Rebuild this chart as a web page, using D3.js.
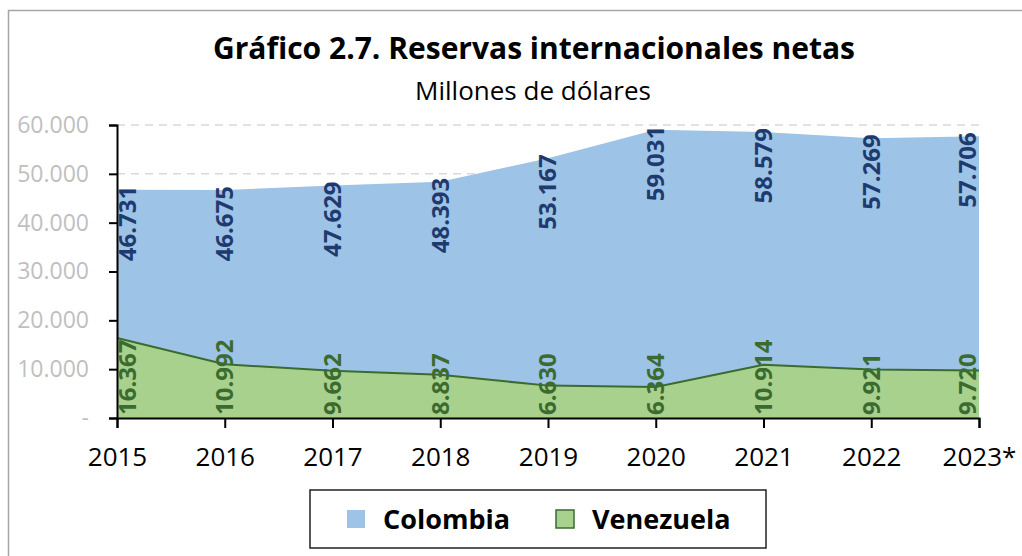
<!DOCTYPE html>
<html>
<head>
<meta charset="utf-8">
<script src="https://cdn.jsdelivr.net/npm/d3@7"></script>
<style>
  body { margin: 0; background: #fff; }
  svg { display: block; font-family: "Open Sans", sans-serif; }
</style>
</head>
<body>
<div id="chart"></div>
<script>
// Chart data
const years = ['2015', '2016', '2017', '2018', '2019', '2020', '2021', '2022', '2023*'];
const colombia = [46731, 46675, 47629, 48393, 53167, 59031, 58579, 57269, 57706];
const venezuela = [16367, 10992, 9662, 8837, 6630, 6364, 10914, 9921, 9720];
const yTicks = [0, 10000, 20000, 30000, 40000, 50000, 60000];
const gridTicks = [50000, 60000];

const W = 1022, H = 556;
const margin = { top: 125, right: 43, bottom: 138, left: 117 };
const width = W - margin.left - margin.right;
const height = H - margin.top - margin.bottom;

const locale = d3.formatLocale({ decimal: ',', thousands: '.', grouping: [3], currency: ['$', ''] });
const fmt = locale.format(',d');

const svg = d3.select('#chart').append('svg')
  .attr('width', W)
  .attr('height', H);

// outer frame
svg.append('rect')
  .attr('x', 8.5).attr('y', 10.5)
  .attr('width', W + 10).attr('height', H + 10)
  .attr('fill', 'none')
  .attr('stroke', '#a6a6a6')
  .attr('stroke-width', 1.5);

// titles
svg.append('text')
  .attr('x', 534).attr('y', 59)
  .attr('text-anchor', 'middle')
  .attr('font-weight', 'bold')
  .attr('font-size', 30)
  .text('Gráfico 2.7. Reservas internacionales netas');

svg.append('text')
  .attr('x', 533).attr('y', 100)
  .attr('text-anchor', 'middle')
  .attr('font-size', 26)
  .text('Millones de dólares');

const g = svg.append('g')
  .attr('transform', `translate(${margin.left},${margin.top})`);

const x = d3.scalePoint().domain(years).range([0, width]);
const y = d3.scaleLinear().domain([0, 60000]).range([height, 0]);

// dashed gridlines
g.selectAll('.grid')
  .data(gridTicks)
  .enter().append('line')
  .attr('class', 'grid')
  .attr('x1', 0).attr('x2', width)
  .attr('y1', d => y(d)).attr('y2', d => y(d))
  .attr('stroke', '#d9d9d9')
  .attr('stroke-width', 1.5)
  .attr('stroke-dasharray', '8,6');

const area = d3.area()
  .x((d, i) => x(years[i]))
  .y0(y(0))
  .y1(d => y(d));

const line = d3.line()
  .x((d, i) => x(years[i]))
  .y(d => y(d));

g.append('path')
  .datum(colombia)
  .attr('d', area)
  .attr('fill', '#9dc3e6');

g.append('path')
  .datum(venezuela)
  .attr('d', area)
  .attr('fill', '#a9d18e');

g.append('path')
  .datum(venezuela)
  .attr('d', line)
  .attr('fill', 'none')
  .attr('stroke', '#3b6b2f')
  .attr('stroke-width', 2);

// axes
const yAxis = g.append('g')
  .call(d3.axisLeft(y).tickValues(yTicks).tickSize(8).tickPadding(20)
    .tickFormat(d => d === 0 ? '-' : fmt(d)));
yAxis.select('.domain').attr('stroke', '#000').attr('stroke-width', 2);
yAxis.selectAll('.tick line').attr('stroke', '#000').attr('stroke-width', 2);
yAxis.selectAll('.tick text')
  .attr('fill', '#bfbfbf')
  .attr('font-size', 23)
  .attr('font-family', '"Open Sans", sans-serif');

const xAxis = g.append('g')
  .attr('transform', `translate(0,${height})`)
  .call(d3.axisBottom(x).tickSize(10).tickPadding(20));
xAxis.select('.domain').attr('stroke', '#000').attr('stroke-width', 2);
xAxis.selectAll('.tick line').attr('stroke', '#000').attr('stroke-width', 2);
xAxis.selectAll('.tick text')
  .attr('fill', '#000')
  .attr('font-size', 26)
  .attr('font-family', '"Open Sans", sans-serif');

// keep labels inside the plot
const labelX = i => Math.min(Math.max(x(years[i]), 11), width - 11);

// Colombia labels, top end
g.selectAll('.lab-col')
  .data(colombia)
  .enter().append('text')
  .attr('class', 'lab-col')
  .attr('transform', (d, i) => `translate(${labelX(i)},${y(d) - 4}) rotate(-90)`)
  .attr('text-anchor', 'end')
  .attr('dy', '0.35em')
  .attr('font-weight', 'bold')
  .attr('font-size', 24)
  .attr('fill', '#1f3a6e')
  .text(d => fmt(d));

// Venezuela labels, base
g.selectAll('.lab-ven')
  .data(venezuela)
  .enter().append('text')
  .attr('class', 'lab-ven')
  .attr('transform', (d, i) => `translate(${labelX(i)},${height - 3}) rotate(-90)`)
  .attr('text-anchor', 'start')
  .attr('dy', '0.35em')
  .attr('font-weight', 'bold')
  .attr('font-size', 24)
  .attr('fill', '#3b6b2f')
  .text(d => fmt(d));

// legend
const legend = svg.append('g').attr('transform', 'translate(310,490)');
legend.append('rect')
  .attr('width', 456).attr('height', 58)
  .attr('fill', '#fff')
  .attr('stroke', '#222')
  .attr('stroke-width', 1.5);

const series = [
  { name: 'Colombia', fill: '#9dc3e6', stroke: 'none', x: 37, tx: 73 },
  { name: 'Venezuela', fill: '#a9d18e', stroke: '#3b6b2f', x: 246, tx: 282 }
];
series.forEach(s => {
  legend.append('rect')
    .attr('x', s.x).attr('y', 20)
    .attr('width', 18).attr('height', 18)
    .attr('fill', s.fill)
    .attr('stroke', s.stroke)
    .attr('stroke-width', 1.5);
  legend.append('text')
    .attr('x', s.tx).attr('y', 39)
    .attr('font-weight', 'bold')
    .attr('font-size', 27)
    .text(s.name);
});
</script>
</body>
</html>
